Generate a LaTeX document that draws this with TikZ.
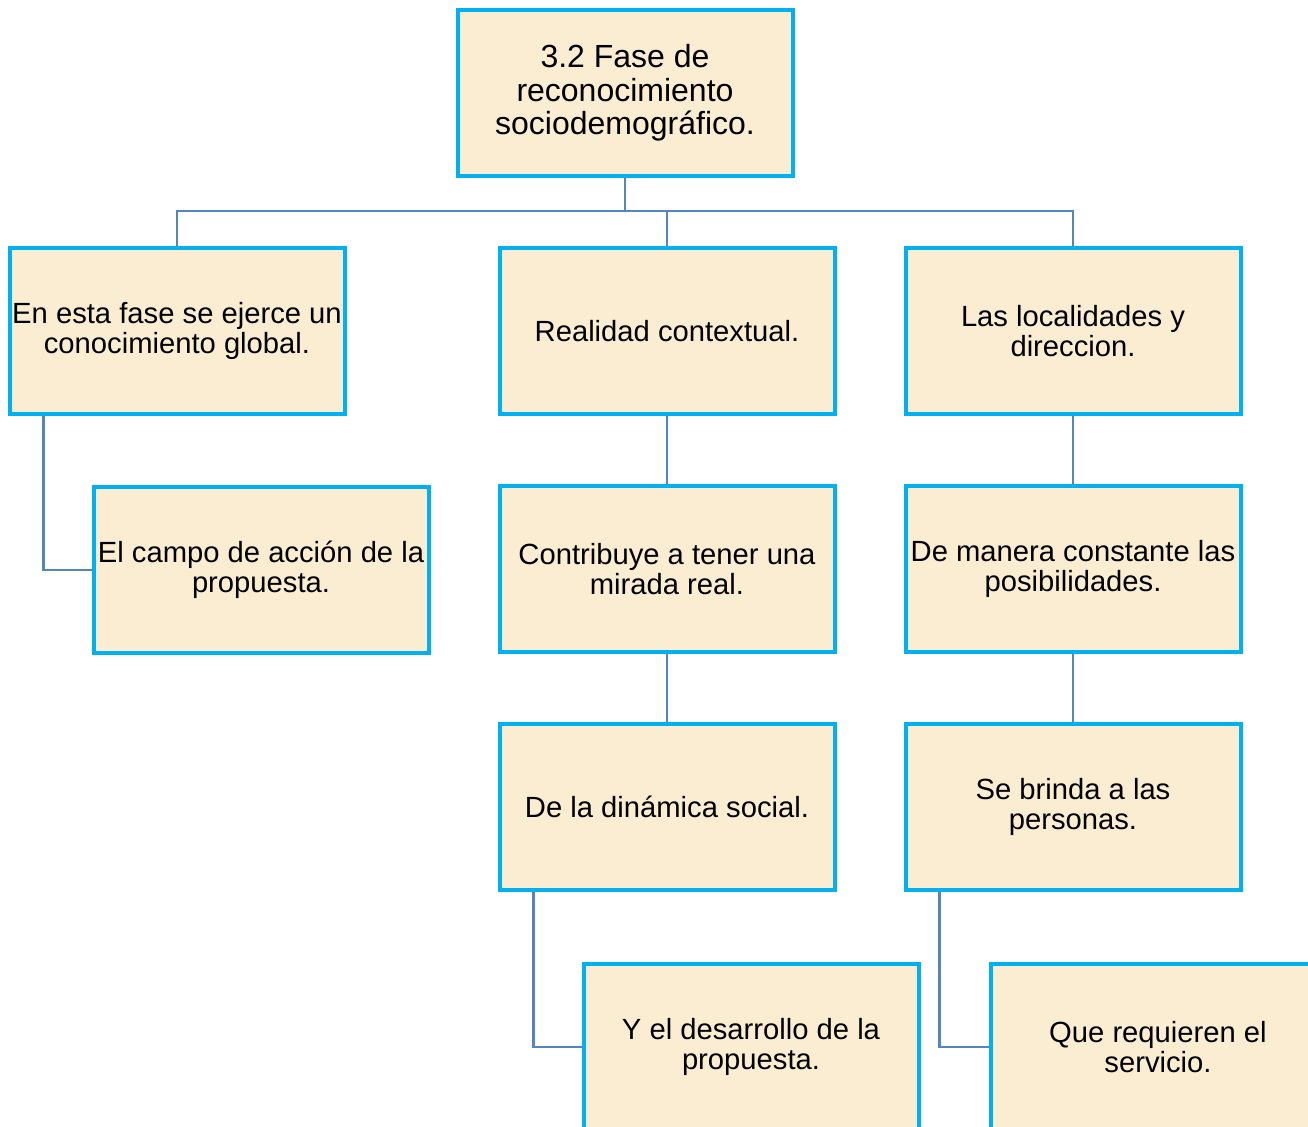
\documentclass[tikz,border=0pt]{standalone}
\usepackage{fontspec}
\setmainfont{Liberation Sans}
\usetikzlibrary{positioning}
\definecolor{boxline}{HTML}{00B0F0}
\definecolor{boxfill}{HTML}{FAEDD1}
\definecolor{linkline}{HTML}{5585BF}
\tikzset{x=0.5pt,y=-0.5pt,
  box/.style={draw=boxline,fill=boxfill,line width=2pt,minimum width=167.5pt,minimum height=83pt,
    align=center,inner sep=1pt,font=\fontsize{14.6}{15}\selectfont},
  topbox/.style={box,font=\fontsize{16}{16.75}\selectfont},
  link/.style={draw=linkline,line width=1.3pt}}
\begin{document}
\begin{tikzpicture}
    \useasboundingbox (0,0) rectangle (1308,1126);
    \clip (0,0) rectangle (1308,1126);
    \node[topbox] (fase) at (625,93) {3.2 Fase de\\reconocimiento\\sociodemográfico.};
    \coordinate (bus) at (625,211);
    \node[box] (global) at (177,331) {En esta fase se ejerce un\\conocimiento global.};
    \node[box] (realidad) at (667,331) {Realidad contextual.};
    \node[box] (localidades) at (1073,331) {Las localidades y\\direccion.};
    \node[box] (campo) at (261,570) {El campo de acción de la\\propuesta.};
    \node[box] (mirada) [below=34pt of realidad] {Contribuye a tener una\\mirada real.};
    \node[box] (posibilidades) [below=34pt of localidades] {De manera constante las\\posibilidades.};
    \node[box] (dinamica) [below=34pt of mirada] {De la dinámica social.};
    \node[box] (personas) [below=34pt of posibilidades] {Se brinda a las\\personas.};
    \node[box] (desarrollo) at (751,1047) {Y el desarrollo de la\\propuesta.};
    \node[box] (servicio) at (1158,1047) {Que requieren el\\servicio.};
    \path[link]
    (fase) -- (bus)
    (global.north) |- (bus)
    (bus) -| (realidad.north)
    (bus) -| (localidades.north)
    ([xshift=18pt]global.south west) |- (campo.west)
    (realidad) -- (mirada)
    (mirada) -- (dinamica)
    (localidades) -- (posibilidades)
    (posibilidades) -- (personas)
    ([xshift=18pt]dinamica.south west) |- (desarrollo.west)
    ([xshift=18pt]personas.south west) |- (servicio.west)
    ;
\end{tikzpicture}
\end{document}
